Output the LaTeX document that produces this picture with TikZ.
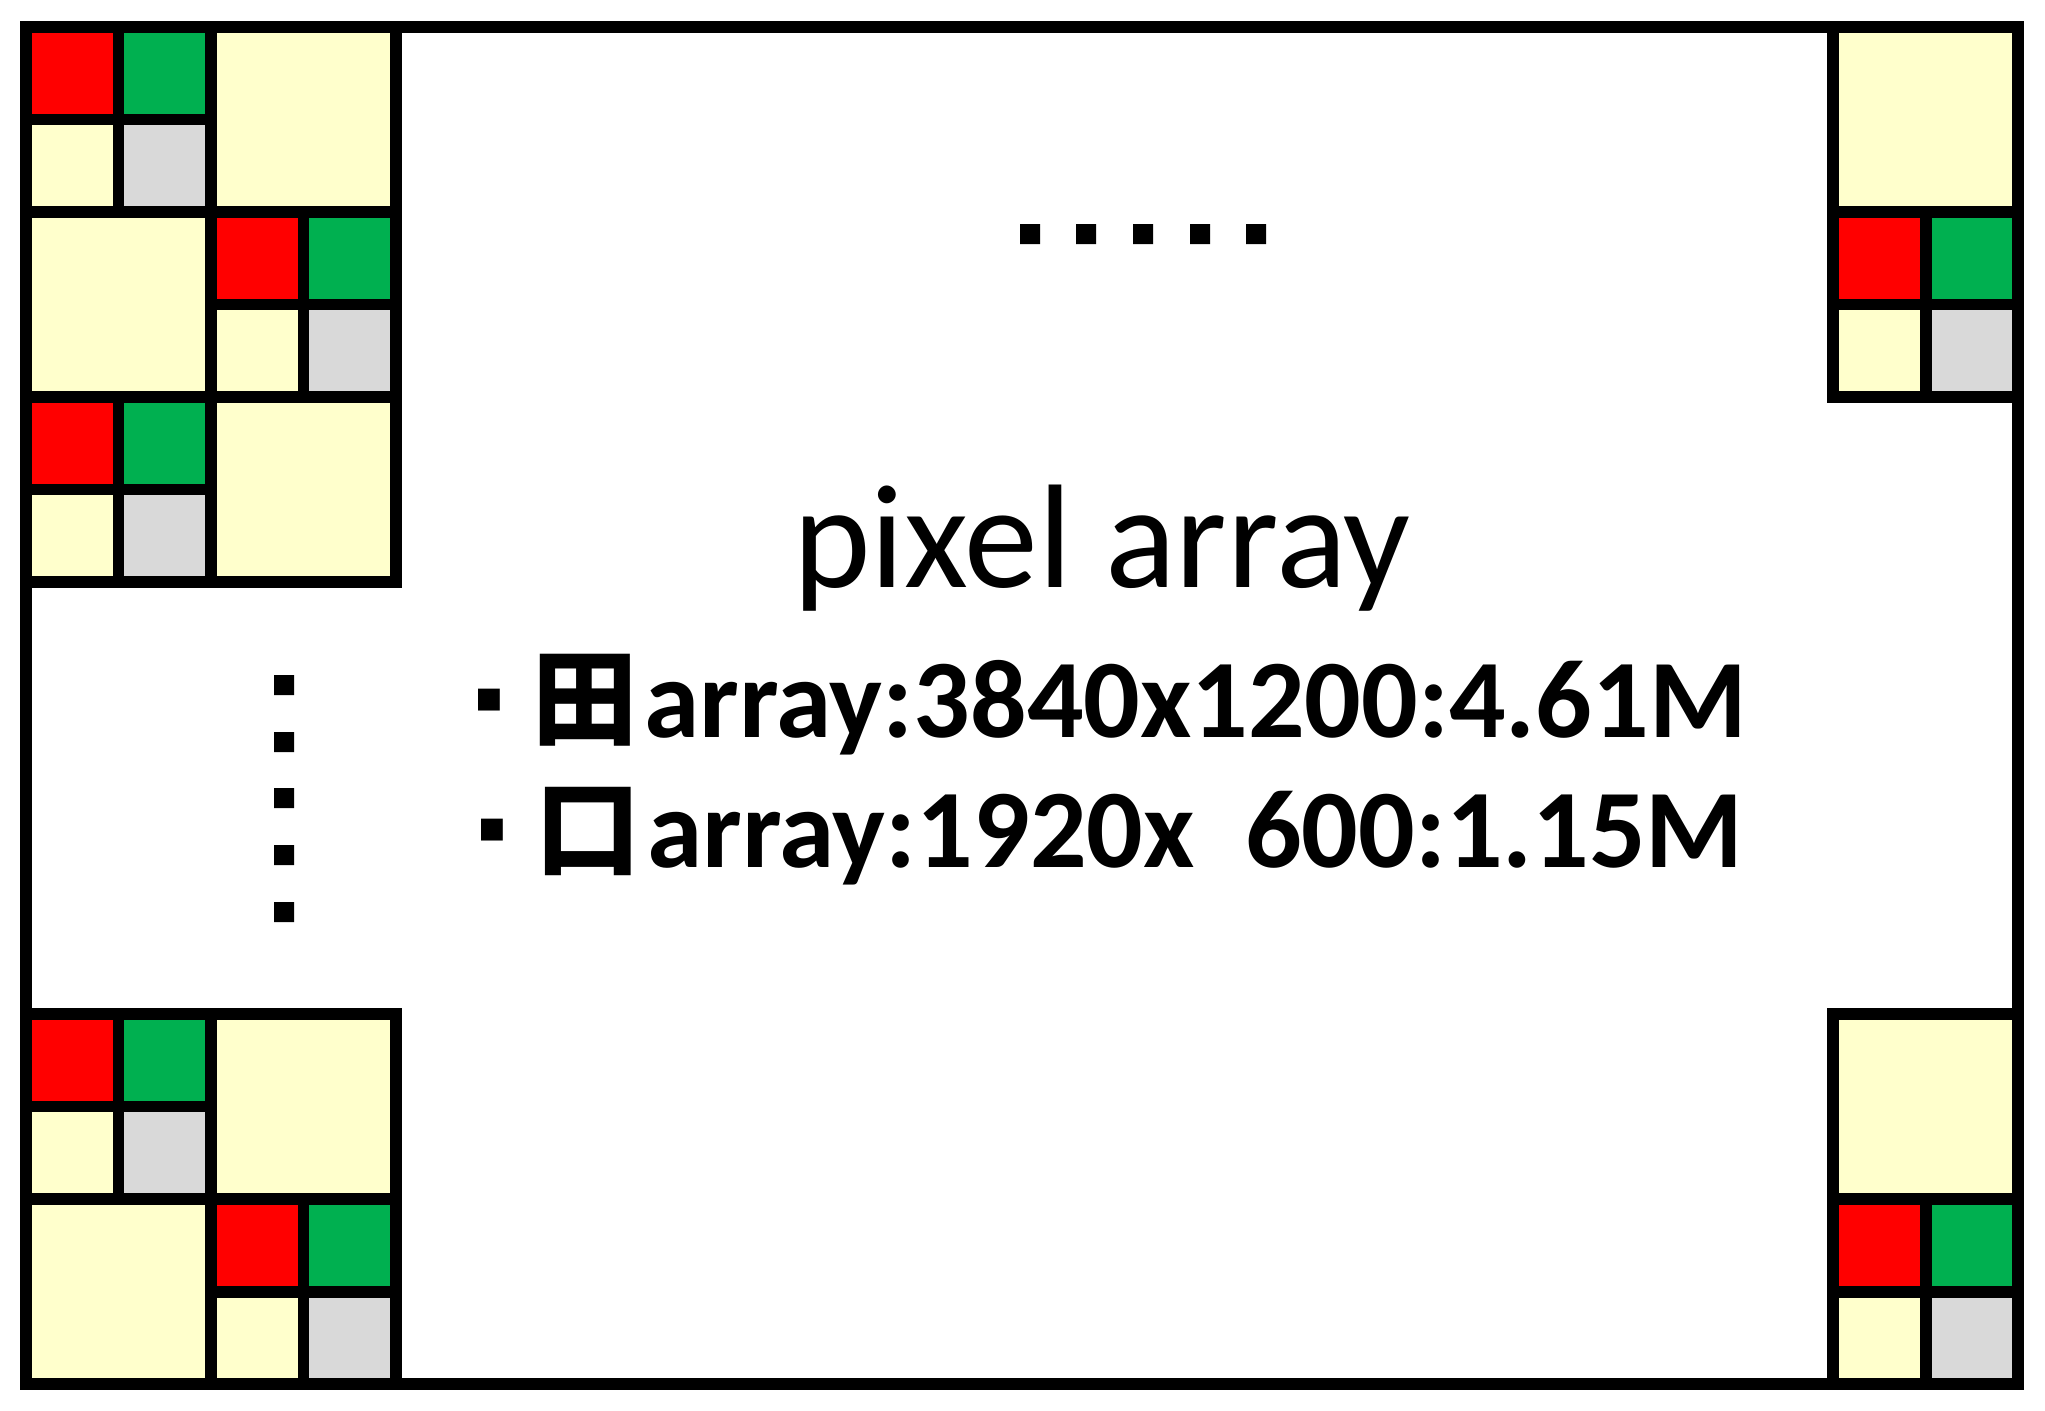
\documentclass[tikz,border=0pt]{standalone}
\usepackage{fontspec}
\setmainfont{Carlito}
\newfontfamily\cjk{Noto Sans CJK JP}
\newfontfamily\symb{DejaVu Sans}
\usepackage{tikz}
\usetikzlibrary{positioning}
\definecolor{pxred}{HTML}{FF0000}
\definecolor{pxgreen}{HTML}{00B050}
\definecolor{pxyellow}{HTML}{FFFFCC}
\definecolor{pxgray}{HTML}{D9D9D9}
\tikzset{
  px/.style={draw, line width=3.4pt, inner sep=0pt, outer sep=0pt, minimum size=0.925cm},
  bigpx/.style={px, fill=pxyellow, minimum size=1.85cm},
  chipframe/.style={draw, line width=3.4pt, inner sep=0pt, outer sep=0pt,
    minimum width=19.92cm, minimum height=13.57cm},
  spec/.style={anchor=base west, inner sep=0pt, font=\fontsize{31.8}{38}\selectfont\bfseries}
}
% one quad of pixels, #2 is its north west corner
\newcommand{\bayer}[2]{%
  \node[px, fill=pxred, anchor=north west] (#1r) at (#2) {};
  \node[px, fill=pxgreen, right=0pt of #1r] (#1g) {};
  \node[px, fill=pxyellow, below=0pt of #1r] (#1y) {};
  \node[px, fill=pxgray, right=0pt of #1y] (#1w) {};
}
% bullet and the sign of the array
\newcommand{\speclead}[1]{\raisebox{0.26cm}{\symb\fontsize{12.5}{12.5}\selectfont ▪}\hspace{0.25em}%
  {\cjk\fontsize{30}{36}\selectfont #1}\hspace{0.06em}}

\begin{document}
\begin{tikzpicture}
      \useasboundingbox (0,0) rectangle (20.45,14.10);
      % Outer frame
      \node[chipframe] (chip) at (10.22,7.045) {};
      % Top left corner
      \bayer{a}{0.26,13.83}
      \node[bigpx, anchor=north west] (ab) at (ag.north east) {};
      \node[bigpx, anchor=north west] (bb) at (ay.south west) {};
      \bayer{b}{bb.north east}
      \bayer{c}{bb.south west}
      \node[bigpx, anchor=north west] (cb) at (cg.north east) {};
      % Bottom left corner
      \bayer{d}{0.26,3.96}
      \node[bigpx, anchor=north west] (db) at (dg.north east) {};
      \node[bigpx, anchor=north west] (eb) at (dy.south west) {};
      \bayer{e}{eb.north east}
      % Right corners
      \node[bigpx, anchor=north east] (fb) at (20.18,13.83) {};
      \bayer{f}{fb.south west}
      \node[bigpx, anchor=north east] (gb) at (20.18,3.96) {};
      \bayer{g}{gb.south west}
      % Dots
      \fill (10.20,11.66) rectangle ++(0.2,0.2) (10.76,11.66) rectangle ++(0.2,0.2)
            (11.33,11.66) rectangle ++(0.2,0.2) (11.90,11.66) rectangle ++(0.2,0.2)
            (12.46,11.66) rectangle ++(0.2,0.2);
      \fill (2.74,7.15) rectangle ++(0.2,0.2) (2.74,6.58) rectangle ++(0.2,0.2)
            (2.74,6.02) rectangle ++(0.2,0.2) (2.74,5.45) rectangle ++(0.2,0.2)
            (2.74,4.88) rectangle ++(0.2,0.2);
      % Labels
      \node[anchor=base, font=\fontsize{42}{50}\selectfont] (title) at (11.02,8.23) {pixel array};
      \node[spec] (full) at (4.74,6.73) {\speclead{田}array:3840x1200:4.61M};
      \node[spec] (half) at (4.77,5.43) {\speclead{口}array:1920x\ \ 600:1.15M};
    \end{tikzpicture}
\end{document}
